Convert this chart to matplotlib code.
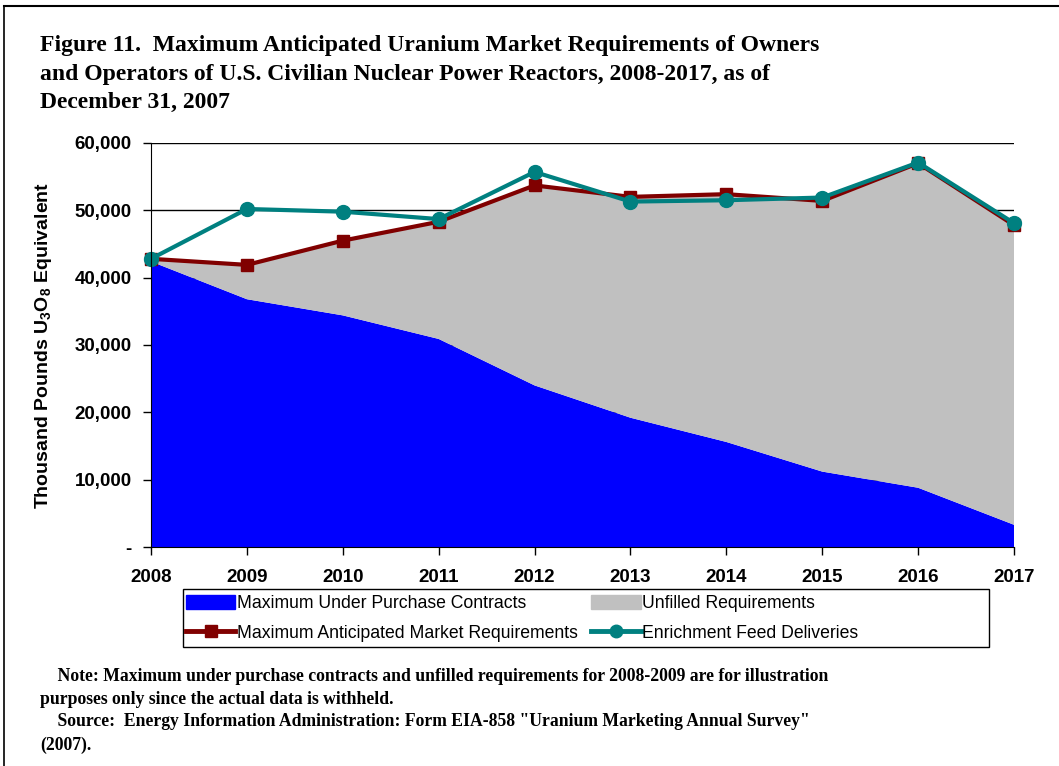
import matplotlib
matplotlib.use("Agg")
import matplotlib.pyplot as plt
from matplotlib.patches import Patch, Rectangle
from matplotlib.lines import Line2D
from matplotlib.ticker import FuncFormatter

# data, thousand pounds U3O8 equivalent
years = [2008, 2009, 2010, 2011, 2012, 2013, 2014, 2015, 2016, 2017]
under_contract = [42400, 36800, 34400, 30900, 24000, 19200, 15600, 11200, 8800, 3300]
unfilled = [400, 5100, 11100, 17400, 29700, 32800, 36800, 40200, 48200, 44500]
max_anticipated = [42800, 41900, 45500, 48300, 53700, 52000, 52400, 51400, 57000, 47800]
enrichment_feed = [42800, 50200, 49800, 48700, 55700, 51300, 51500, 51900, 57100, 48100]

W, H = 1059, 766
plt.rcParams["mathtext.fontset"] = "custom"
plt.rcParams["mathtext.rm"] = "Liberation Sans:bold"
plt.rcParams["mathtext.it"] = "Liberation Sans:bold"
fig = plt.figure(figsize=(W / 100, H / 100), dpi=100)
serif = "Liberation Serif"
sans = "Liberation Sans"

# outer frame (top and left edges visible)
fig.add_artist(Line2D([4 / W, 4 / W], [0, 1 - 6 / H], transform=fig.transFigure, color="black", lw=1.2))
fig.add_artist(Line2D([4 / W, 1], [1 - 6 / H, 1 - 6 / H], transform=fig.transFigure, color="black", lw=1.5))

fig.text(40 / W, 1 - 35 / H,
         "Figure 11.  Maximum Anticipated Uranium Market Requirements of Owners\n"
         "and Operators of U.S. Civilian Nuclear Power Reactors, 2008-2017, as of\n"
         "December 31, 2007",
         family=serif, fontweight="bold", fontsize=17, va="top", ha="left", linespacing=1.47)

ax = fig.add_axes([151 / W, 1 - 547 / H, (1014 - 151) / W, (547 - 143) / H])
ax.stackplot(years, under_contract, unfilled, colors=["#0000FF", "#C0C0C0"], zorder=2)
ax.plot(years, max_anticipated, color="#800000", lw=3, marker="s", ms=9, zorder=3, clip_on=False)
ax.plot(years, enrichment_feed, color="#008080", lw=3, marker="o", ms=10, zorder=4, clip_on=False)

ax.set_xlim(2008, 2017)
ax.set_ylim(0, 60000)
ax.set_xticks(years)
ax.set_yticks(range(0, 60001, 10000))
ax.yaxis.set_major_formatter(FuncFormatter(lambda v, p: "-" if v == 0 else f"{int(v):,}"))
ax.grid(axis="y", color="black", lw=1, zorder=0)
ax.set_axisbelow(True)
for s in ["top", "right"]:
    ax.spines[s].set_visible(False)
ax.spines["left"].set_zorder(5)
ax.spines["bottom"].set_zorder(5)
ax.tick_params(direction="out", length=6, width=1)
ax.tick_params(axis="x", pad=10)
ax.tick_params(axis="y", pad=8)
for lab in ax.get_xticklabels() + ax.get_yticklabels():
    lab.set_family(sans)
    lab.set_fontweight("bold")
    lab.set_fontsize(13.5)
ax.set_ylabel("Thousand Pounds U$_3$O$_8$ Equivalent", family=sans, fontweight="bold", fontsize=14, labelpad=15)

# legend box
fig.add_artist(Rectangle((183 / W, 1 - 647 / H), (989 - 183) / W, 58 / H, transform=fig.transFigure,
                         fill=False, edgecolor="black", lw=1))
handles = [Patch(color="#0000FF"),
           Line2D([], [], color="#800000", lw=3.5, marker="s", ms=9),
           Patch(color="#C0C0C0"),
           Line2D([], [], color="#008080", lw=3.5, marker="o", ms=9)]
labels = ["Maximum Under Purchase Contracts", "Maximum Anticipated Market Requirements",
          "Unfilled Requirements", "Enrichment Feed Deliveries"]
fig.legend(handles, labels, ncol=2, loc="upper left", bbox_to_anchor=(186 / W, 1 - 595 / H),
           prop={"family": sans, "size": 12.7}, frameon=False, borderpad=0,
           handlelength=2.8, handleheight=0.8, handletextpad=0.1,
           columnspacing=0.75, labelspacing=0.72, borderaxespad=0)

fig.text(40 / W, 1 - 668 / H,
         "    Note: Maximum under purchase contracts and unfilled requirements for 2008-2009 are for illustration\n"
         "purposes only since the actual data is withheld.\n"
         "    Source:  Energy Information Administration: Form EIA-858 \"Uranium Marketing Annual Survey\"\n"
         "(2007).",
         family=serif, fontweight="bold", fontsize=12.7, va="top", ha="left", linespacing=1.44)

fig.savefig("out.png", dpi=100)
